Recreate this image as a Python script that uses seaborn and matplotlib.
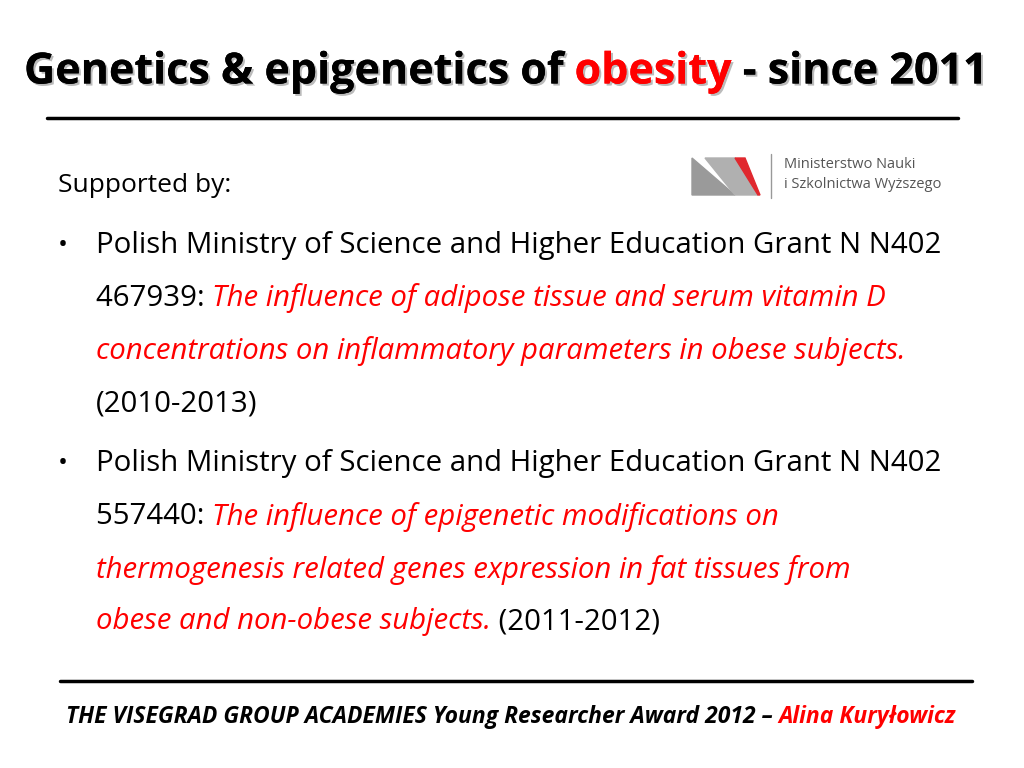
import matplotlib
matplotlib.use("Agg")
import matplotlib.pyplot as plt
import seaborn as sns
from matplotlib.patches import Polygon
import matplotlib.patheffects as pe

sns.set_theme(style="white")
plt.rcParams['font.family'] = ['Open Sans', 'DejaVu Sans']

RED = "#ff0000"
BLACK = "#000000"

title_parts = [("Genetics & epigenetics of ", BLACK), ("obesity", RED), (" - since 2011", BLACK)]
supported = "Supported by:"
bullet1 = [
    [("Polish Ministry of Science and Higher Education Grant N N402", BLACK, "normal")],
    [("467939: ", BLACK, "normal"), ("The influence of adipose tissue and serum vitamin D", RED, "italic")],
    [("concentrations on inflammatory parameters in obese subjects.", RED, "italic")],
    [("(2010-2013)", BLACK, "normal")],
]
bullet2 = [
    [("Polish Ministry of Science and Higher Education Grant N N402", BLACK, "normal")],
    [("557440: ", BLACK, "normal"), ("The influence of epigenetic modifications on", RED, "italic")],
    [("thermogenesis related genes expression in fat tissues from", RED, "italic")],
    [("obese and non-obese subjects.", RED, "italic"), (" (2011-2012)", BLACK, "normal")],
]
footer_parts = [("THE VISEGRAD GROUP ACADEMIES Young Researcher Award 2012 – ", BLACK), ("Alina Kuryłowicz", RED)]
logo_lines = ["Ministerstwo Nauki", "i Szkolnictwa Wyższego"]

fig = plt.figure(figsize=(10.24, 7.68), dpi=100)
ax = fig.add_axes([0, 0, 1, 1])
ax.set_xlim(0, 1024); ax.set_ylim(768, 0); ax.axis("off")
fig.canvas.draw()
r = fig.canvas.get_renderer()

def runs(x, y, parts, size, weight="normal", style_default="normal", effects=None):
    for p in parts:
        s, c = p[0], p[1]
        st = p[2] if len(p) > 2 else style_default
        t = ax.text(x, y, s, color=c, fontsize=size, fontweight=weight, fontstyle=st,
                    va="center", ha="left", path_effects=effects)
        bb = t.get_window_extent(renderer=r)
        x += bb.width
    return x

shadow = [pe.withSimplePatchShadow(offset=(1.5, -1.5), shadow_rgbFace="#aaaaaa", alpha=0.8), pe.Normal()]
runs(24, 72, title_parts, 31, weight="bold", effects=shadow)
ax.plot([47, 958], [118, 118], color="black", lw=2.5)

ax.text(58, 185, supported, fontsize=19, va="center", color=BLACK)
ys1 = [245, 298, 351, 404]
ys2 = [464, 517, 570, 622]
for ys, lines in ((ys1, bullet1), (ys2, bullet2)):
    ax.text(58, ys[0], "•", fontsize=19, va="center", color=BLACK)
    for y, parts in zip(ys, lines):
        runs(96, y, parts, 21.2)

ax.plot([60, 972], [681, 681], color="black", lw=2.5)
runs(66, 717, footer_parts, 16.5, weight="bold", style_default="italic")

# logo
ax.add_patch(Polygon([[692, 195], [692, 158], [735, 195]], closed=True, color="#9a9a9a"))
ax.add_patch(Polygon([[705, 158], [735, 158], [758, 195], [735, 195]], closed=True, color="#b0b0b0"))
ax.add_patch(Polygon([[735, 158], [745, 158], [760, 195], [758, 195]], closed=True, color="#e0282e"))
ax.plot([771, 771], [154, 198], color="#999999", lw=1)
ax.text(784, 165, logo_lines[0], fontsize=10.5, color="#555555", va="center")
ax.text(784, 184, logo_lines[1], fontsize=10.5, color="#555555", va="center")

fig.savefig("out.png", dpi=100)
